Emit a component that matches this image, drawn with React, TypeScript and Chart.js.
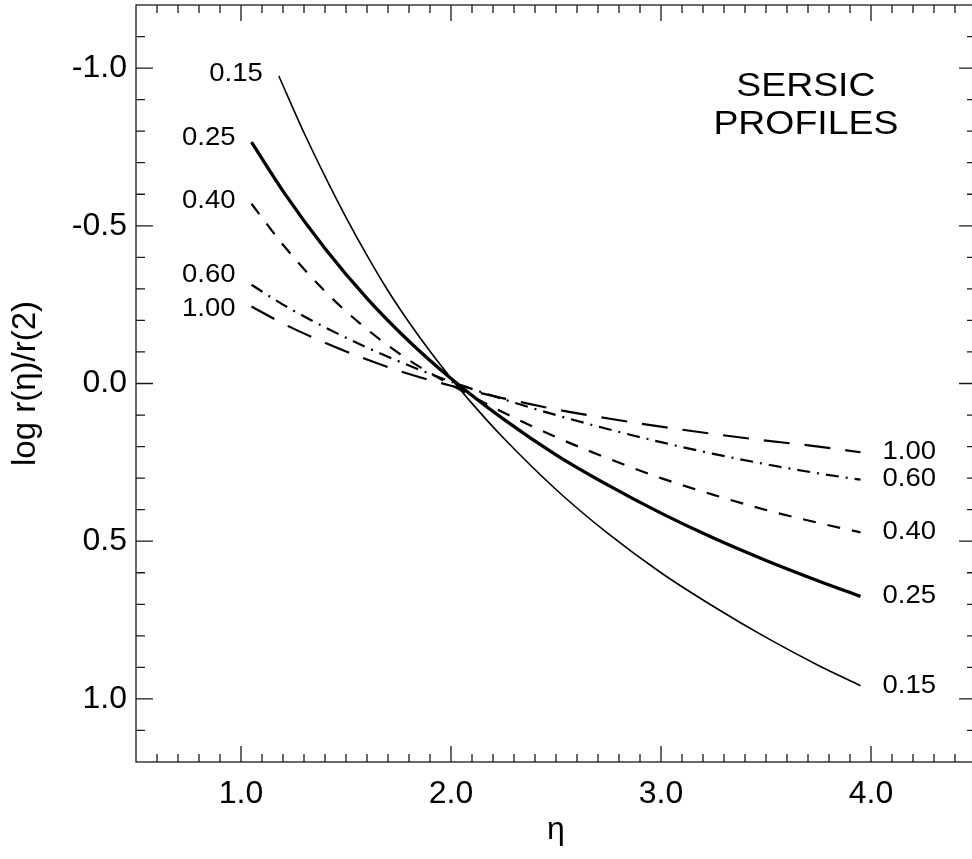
import React, { useEffect, useRef } from 'react';
import { Chart, registerables } from 'chart.js';

Chart.register(...registerables);

// ---- data ----
const ETA = [1.05, 1.2, 1.4, 1.6, 1.8, 2.0, 2.25, 2.5, 2.75, 3.0, 3.25, 3.5, 3.75, 3.95];
const ETA_015 = [1.18, 1.3, 1.4, 1.5, 1.6, 1.7, 1.8, 1.9, 2.0, 2.1, 2.25, 2.5, 2.75, 3.0, 3.25, 3.5, 3.75, 3.95];
const Y_015 = [-0.975, -0.795, -0.657, -0.527, -0.406, -0.294, -0.194, -0.102, -0.017, 0.063, 0.173, 0.336, 0.477, 0.60, 0.707, 0.805, 0.894, 0.958];
const Y_025 = [-0.765, -0.61, -0.428, -0.27, -0.134, -0.016, 0.113, 0.226, 0.323, 0.411, 0.49, 0.561, 0.626, 0.675];
const Y_040 = [-0.57, -0.44, -0.292, -0.172, -0.074, 0.004, 0.092, 0.17, 0.238, 0.30, 0.353, 0.401, 0.442, 0.472];
const Y_060 = [-0.313, -0.25, -0.178, -0.114, -0.057, -0.006, 0.05, 0.1, 0.145, 0.186, 0.223, 0.256, 0.285, 0.305];
const Y_100 = [-0.244, -0.19, -0.129, -0.076, -0.03, 0.007, 0.047, 0.082, 0.111, 0.137, 0.16, 0.181, 0.2, 0.218];
const CURVE_LABELS = ['0.15', '0.25', '0.40', '0.60', '1.00'];
const X_TICKS = [1, 2, 3, 4];
const Y_TICKS = [-1, -0.5, 0, 0.5, 1];
const X_RANGE = [0.5, 4.5];
const Y_RANGE = [-1.2, 1.2];
const TITLE_LINES = ['SERSIC', 'PROFILES'];

const FONT = "'Liberation Sans', Arial, Helvetica, sans-serif";
const STRETCH = 1.1;

// styles per curve (same order as CURVE_LABELS)
const STYLES = [
  { width: 1.6, dash: [] as number[] },
  { width: 3.3, dash: [] as number[] },
  { width: 2.2, dash: [13, 12] },
  { width: 2.2, dash: [13, 7, 2, 7] },
  { width: 2.2, dash: [26, 15] },
];
// label offsets (px) relative to curve ends
const LEFT_DY = [-2, -4, -3, -10, 3];
const RIGHT_DY = [0, 0, 0, -1, 0];

function pts(xs: number[], ys: number[]) {
  return xs.map((x, i) => ({ x, y: ys[i] }));
}

function drawText(ctx: CanvasRenderingContext2D, text: string, x: number, y: number, align: 'left' | 'right' | 'center', size: number) {
  ctx.save();
  ctx.font = `${size}px ${FONT}`;
  ctx.fillStyle = '#000';
  ctx.textBaseline = 'middle';
  ctx.textAlign = 'left';
  const w = ctx.measureText(text).width * STRETCH;
  let x0 = x;
  if (align === 'right') x0 = x - w;
  else if (align === 'center') x0 = x - w / 2;
  ctx.translate(x0, y);
  ctx.scale(STRETCH, 1);
  ctx.fillText(text, 0, 0);
  ctx.restore();
}

const framePlugin = {
  id: 'frameTicks',
  afterDatasetsDraw(chart: any) {
    const { ctx, chartArea: a, scales } = chart;
    const xs = scales.x;
    const ys = scales.y;
    ctx.save();
    ctx.strokeStyle = '#1a1a1a';
    ctx.lineWidth = 1.3;
    ctx.strokeRect(a.left, a.top, a.right - a.left, a.bottom - a.top);
    ctx.beginPath();
    for (let i = Math.round(X_RANGE[0] * 10) + 1; i < Math.round(X_RANGE[1] * 10); i++) {
      const v = i / 10;
      const len = i % 10 === 0 ? 16 : 8;
      const px = xs.getPixelForValue(v);
      ctx.moveTo(px, a.bottom);
      ctx.lineTo(px, a.bottom - len);
      ctx.moveTo(px, a.top);
      ctx.lineTo(px, a.top + len);
    }
    for (let i = Math.round(Y_RANGE[0] * 10) + 1; i < Math.round(Y_RANGE[1] * 10); i++) {
      const v = i / 10;
      const len = i % 5 === 0 ? 17 : 9;
      const py = ys.getPixelForValue(v);
      ctx.moveTo(a.left, py);
      ctx.lineTo(a.left + len, py);
      ctx.moveTo(a.right, py);
      ctx.lineTo(a.right - len, py);
    }
    ctx.stroke();
    ctx.restore();

    // curve labels
    chart.data.datasets.forEach((ds: any, i: number) => {
      const first = ds.data[0];
      const last = ds.data[ds.data.length - 1];
      const lx = xs.getPixelForValue(first.x) - 16;
      const ly = ys.getPixelForValue(first.y) + LEFT_DY[i];
      drawText(ctx, CURVE_LABELS[i], lx, ly, 'right', 25);
      const rx = xs.getPixelForValue(last.x) + 22;
      const ry = ys.getPixelForValue(last.y) + RIGHT_DY[i];
      drawText(ctx, CURVE_LABELS[i], rx, ry, 'left', 25);
    });

    // panel title
    const tx = xs.getPixelForValue(3.69);
    drawText(ctx, TITLE_LINES[0], tx, ys.getPixelForValue(-0.942), 'center', 34);
    drawText(ctx, TITLE_LINES[1], tx, ys.getPixelForValue(-0.822), 'center', 34);
  },
};

export default function App() {
  const ref = useRef<HTMLCanvasElement | null>(null);
  useEffect(() => {
    if (!ref.current) return;
    const series = [
      pts(ETA_015, Y_015),
      pts(ETA, Y_025),
      pts(ETA, Y_040),
      pts(ETA, Y_060),
      pts(ETA, Y_100),
    ];
    const chart = new Chart(ref.current, {
      type: 'line',
      data: {
        datasets: series.map((d, i) => ({
          label: CURVE_LABELS[i],
          data: d,
          borderColor: '#000',
          borderWidth: STYLES[i].width,
          borderDash: STYLES[i].dash,
          borderCapStyle: 'butt',
          pointRadius: 0,
          fill: false,
          cubicInterpolationMode: 'monotone',
        })),
      },
      options: {
        animation: false,
        responsive: false,
        devicePixelRatio: 1,
        layout: { padding: { top: 5, right: 14, left: 0, bottom: 0 } },
        plugins: { legend: { display: false }, tooltip: { enabled: false } },
        scales: {
          x: {
            type: 'linear',
            min: X_RANGE[0],
            max: X_RANGE[1],
            grid: { display: false, drawTicks: false },
            border: { display: false },
            afterBuildTicks: (s: any) => {
              s.ticks = X_TICKS.map((v) => ({ value: v }));
            },
            afterFit: (s: any) => {
              s.height = 97;
              s.paddingLeft = 0;
              s.paddingRight = 0;
            },
            ticks: {
              callback: (v: any) => Number(v).toFixed(1),
              color: '#000',
              font: { family: FONT, size: 32 },
              padding: 13,
              maxRotation: 0,
            },
            title: {
              display: true,
              text: 'η',
              color: '#000',
              font: { family: FONT, size: 32 },
              padding: { top: 0, bottom: 10 },
            },
          },
          y: {
            type: 'linear',
            reverse: true,
            min: Y_RANGE[0],
            max: Y_RANGE[1],
            grid: { display: false, drawTicks: false },
            border: { display: false },
            afterBuildTicks: (s: any) => {
              s.ticks = Y_TICKS.map((v) => ({ value: v }));
            },
            afterFit: (s: any) => {
              s.width = 136;
              s.paddingTop = 0;
              s.paddingBottom = 0;
            },
            ticks: {
              callback: (v: any) => Number(v).toFixed(1),
              color: '#000',
              font: { family: FONT, size: 32 },
              padding: 9,
            },
            title: {
              display: true,
              text: 'log r(η)/r(2)',
              color: '#000',
              font: { family: FONT, size: 33 },
              padding: { top: 6, bottom: 0 },
            },
          },
        },
      },
      plugins: [framePlugin],
    } as any);
    return () => chart.destroy();
  }, []);
  return (
    <div style={{ position: 'fixed', left: 0, top: 0, width: 972, height: 859, overflow: 'hidden', background: '#fff' }}>
      <canvas ref={ref} width={990} height={859} style={{ display: 'block', width: 990, height: 859 }} />
    </div>
  );
}
